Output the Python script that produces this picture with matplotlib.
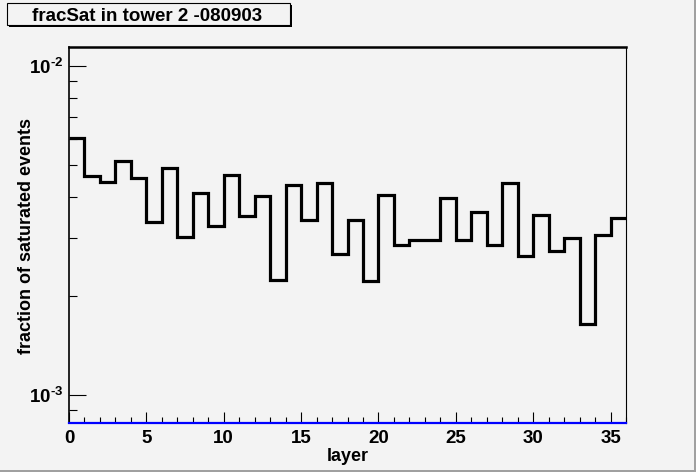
import matplotlib
matplotlib.use('Agg')
import matplotlib.pyplot as plt
import numpy as np
from matplotlib.patches import Rectangle
from matplotlib.ticker import FixedLocator, MultipleLocator, NullFormatter, LogLocator

# ---- data ----
layer_edges = list(range(0, 37))
frac_sat = [6.04e-3, 4.63e-3, 4.45e-3, 5.14e-3, 4.56e-3, 3.36e-3, 4.89e-3, 3.02e-3,
            4.12e-3, 3.26e-3, 4.67e-3, 3.50e-3, 4.03e-3, 2.24e-3, 4.35e-3, 3.40e-3,
            4.42e-3, 2.68e-3, 3.41e-3, 2.22e-3, 4.06e-3, 2.85e-3, 2.96e-3, 2.96e-3,
            3.97e-3, 2.96e-3, 3.60e-3, 2.86e-3, 4.41e-3, 2.64e-3, 3.53e-3, 2.75e-3,
            3.00e-3, 1.64e-3, 3.06e-3, 3.45e-3]
x_ticks = [0, 5, 10, 15, 20, 25, 30, 35]
y_ticks = [1e-3, 1e-2]
y_tick_labels = [r'$\mathbf{10^{\text{-}3}}$', r'$\mathbf{10^{\text{-}2}}$']
title = "fracSat in tower 2 -080903"
xlabel = "layer"
ylabel = "fraction of saturated events"
xmin, xmax = 0, 36
ymin, ymax = 8.2e-4, 0.01147

W, H = 696, 472
BG = '#f3f3f3'
plt.rcParams['font.family'] = ['Liberation Sans', 'DejaVu Sans']
plt.rcParams['mathtext.fontset'] = 'custom'
plt.rcParams['mathtext.bf'] = 'Liberation Sans:bold'
plt.rcParams['mathtext.rm'] = 'Liberation Sans:bold'

def fx(px):
    return px / W

def fy(py):
    return 1 - py / H

fig = plt.figure(figsize=(W / 100, H / 100), dpi=100, facecolor=BG)

L, R, T, B = 69, 626, 46.7, 423.3
ax = fig.add_axes([fx(L), fy(B), fx(R) - fx(L), fy(T) - fy(B)])
ax.set_facecolor(BG)

ax.stairs(frac_sat, layer_edges, baseline=None, color='black', lw=2.3, zorder=3)
# empty (zero) histogram drawn in blue along the bottom
ax.plot([xmin, xmax], [ymin, ymin], color='#0000ff', lw=1.6, clip_on=False, zorder=5)

ax.set_yscale('log')
ax.set_xlim(xmin, xmax)
ax.set_ylim(ymin, ymax)

ax.xaxis.set_major_locator(FixedLocator(x_ticks))
ax.xaxis.set_minor_locator(MultipleLocator(1))
ax.set_xticklabels([str(t) for t in x_ticks], fontsize=13.5, fontweight='bold')
ax.yaxis.set_major_locator(FixedLocator(y_ticks))
ax.yaxis.set_minor_locator(LogLocator(base=10, subs=np.arange(2, 10)))
ax.yaxis.set_minor_formatter(NullFormatter())
ax.set_yticklabels(y_tick_labels, fontsize=13.5)

ax.tick_params(axis='x', which='major', direction='in', length=8, width=0.8, pad=5,
               top=False, colors='black')
ax.tick_params(axis='x', which='minor', direction='in', length=4, width=0.8, top=False)
ax.tick_params(axis='y', which='major', direction='in', length=12.5, width=0.8, pad=4,
               right=False)
ax.tick_params(axis='y', which='minor', direction='in', length=6, width=0.8, right=False)

for s in ['left', 'bottom']:
    ax.spines[s].set_linewidth(1.2)
ax.spines['top'].set_linewidth(1.8)
ax.spines['right'].set_linewidth(0.8)

fig.text(fx(347.5), fy(461), xlabel, ha='center', va='baseline', fontsize=13,
         fontweight='bold')
fig.text(fx(27), fy(235.5), ylabel, ha='center', va='center', rotation=90,
         fontsize=13, fontweight='bold')

# title box with shadow
bx0, by0, bx1, by1 = 6.7, 2.7, 290, 24.5
fig.patches.append(Rectangle((fx(bx0 + 2), fy(by1 + 2)), fx(bx1 - bx0), fy(by0) - fy(by1),
                             transform=fig.transFigure, facecolor='black',
                             edgecolor='none', zorder=1))
fig.patches.append(Rectangle((fx(bx0), fy(by1)), fx(bx1 - bx0), fy(by0) - fy(by1),
                             transform=fig.transFigure, facecolor=BG,
                             edgecolor='black', lw=0.8, zorder=2))
fig.text(fx(147.5), fy(20.7), title, ha='center', va='baseline', fontsize=13.5,
         fontweight='bold', zorder=3)

# canvas bevel
fig.patches.append(Rectangle((fx(694), 0), fx(2), 1, transform=fig.transFigure,
                             facecolor='#a0a0a0', edgecolor='none'))
fig.patches.append(Rectangle((0, 0), 1, fy(470), transform=fig.transFigure,
                             facecolor='#a0a0a0', edgecolor='none'))

fig.savefig('out.png', dpi=100, facecolor=BG)
